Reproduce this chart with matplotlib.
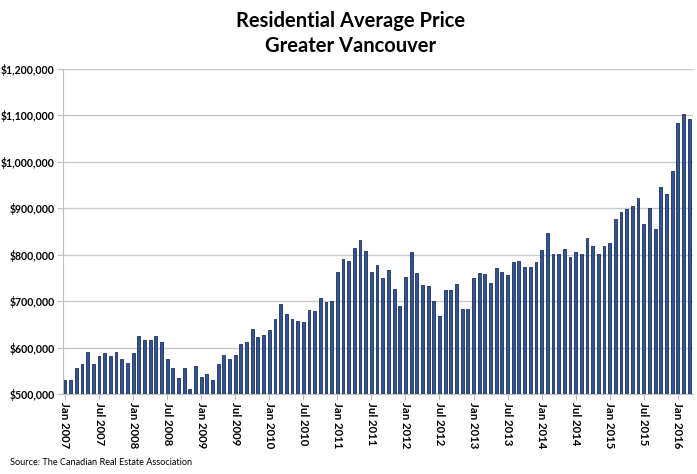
import numpy as np
import matplotlib.pyplot as plt

# monthly average price (thousands of $), Jan 2007 .. Mar 2016
prices = [530, 531, 555, 564, 591, 565, 581, 588, 582, 591, 576, 566,
          588, 624, 616, 616, 625, 611, 575, 557, 535, 557, 511, 561,
          536, 543, 531, 565, 584, 576, 584, 608, 611, 639, 623, 627,
          637, 662, 693, 673, 661, 658, 656, 681, 679, 706, 699, 701,
          763, 791, 786, 815, 831, 809, 762, 778, 750, 767, 727, 689,
          752, 806, 761, 734, 732, 701, 667, 724, 723, 736, 682, 684,
          749, 760, 759, 739, 772, 762, 757, 784, 786, 774, 774, 785,
          811, 846, 801, 801, 813, 795, 805, 802, 836, 819, 801, 819,
          826, 878, 891, 898, 905, 922, 866, 900, 856, 946, 930, 981,
          1083, 1104, 1092]
years = list(range(2007, 2017))
tick_labels = []
for y in years:
    tick_labels.append('Jan %d' % y)
    if y < 2016:
        tick_labels.append('Jul %d' % y)

plt.rcParams['font.family'] = ['Lato', 'DejaVu Sans']

fig = plt.figure(figsize=(6.97, 4.74), dpi=100)
ax = fig.add_axes([0.0904, 0.1688, 0.904, 0.6856])

x = np.arange(len(prices))
vals = np.array(prices) * 1000
ax.bar(x, vals, width=0.5, color='#2f5597', edgecolor='#1f2f55', linewidth=0.6, zorder=3)

ax.set_ylim(500000, 1200000)
ax.set_xlim(-0.35, len(prices) - 0.3)
yt = np.arange(500000, 1200001, 100000)
ax.set_yticks(yt)
ax.set_yticklabels(['${:,}'.format(v) for v in yt], fontsize=7.6, fontweight='bold')
ax.yaxis.grid(True, color='#c8c8c8', linewidth=1, zorder=0)
ax.set_xticks(np.arange(0, len(prices), 6))
ax.set_xticklabels(tick_labels, rotation=270, fontsize=8.2, fontweight='bold')

for s in ['top', 'right']:
    ax.spines[s].set_visible(False)
for s in ['left', 'bottom']:
    ax.spines[s].set_color('#bfbfbf')
ax.tick_params(axis='y', length=4, color='#bfbfbf', pad=2)
ax.tick_params(axis='x', length=4, color='#bfbfbf', pad=2)

fig.text(0.503, 0.955, 'Residential Average Price', ha='center', va='center',
         fontsize=14.5, fontweight='bold')
fig.text(0.503, 0.903, 'Greater Vancouver', ha='center', va='center',
         fontsize=14.5, fontweight='bold')
fig.text(0.014, 0.025, 'Source: The Canadian Real Estate Association', ha='left',
         va='center', fontsize=6.6)

fig.savefig('out.png', dpi=100)
